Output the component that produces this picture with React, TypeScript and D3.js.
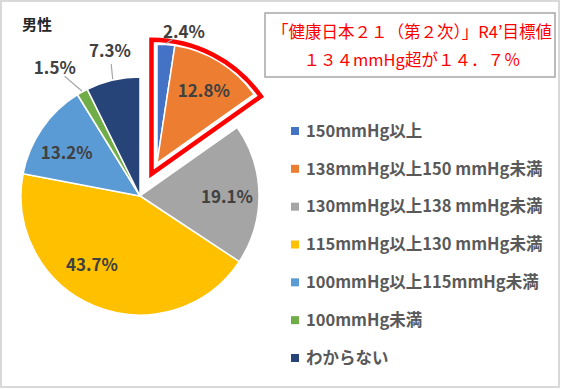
import React, { useEffect, useRef } from "react";
import * as d3 from "d3";

// data (男性, 収縮期血圧の分布)
const categories = [
  "150mmHg以上",
  "138mmHg以上150 mmHg未満",
  "130mmHg以上138 mmHg未満",
  "115mmHg以上130 mmHg未満",
  "100mmHg以上115mmHg未満",
  "100mmHg未満",
  "わからない",
];
const values = [2.4, 12.8, 19.1, 43.7, 13.2, 1.5, 7.3];
const colors = ["#4472c4", "#ed7d31", "#a5a5a5", "#ffc000", "#5b9bd5", "#70ad47", "#264478"];
const exploded = [true, true, false, false, false, false, false];
const titleText = "男性";
const noteLines = ["「健康日本２１（第２次）」R4’目標値", "１３４mmHg超が１４．７％"];

// label placement: [radius, angle nudge in degrees], outside labels get a leader
const labelPlace: [number, number, boolean][] = [
  [134, 7.3, true],
  [86, 1.3, false],
  [87, 1.6, false],
  [84, 12.8, false],
  [85, -4.1, false],
  [154, -4.6, true],
  [148, 1.4, true],
];

const W = 563;
const H = 389;
const FONT = "'Noto Sans CJK JP', 'Liberation Sans', sans-serif";

const App: React.FC = () => {
  const svgRef = useRef<SVGSVGElement>(null);

  useEffect(() => {
    if (!svgRef.current) return;
    const svg = d3.select(svgRef.current);
    svg.selectAll("*").remove();

    const cx = 140;
    const cy = 196;
    const r = 119;
    const explode = 37;

    svg.append("rect").attr("width", W).attr("height", H).attr("fill", "#fff");
    svg
      .append("rect")
      .attr("x", 1)
      .attr("y", 1)
      .attr("width", 558)
      .attr("height", 386)
      .attr("fill", "none")
      .attr("stroke", "#d9d9d9")
      .attr("stroke-width", 2);

    // title
    svg
      .append("text")
      .attr("x", 22)
      .attr("y", 25)
      .attr("dy", "0.35em")
      .attr("font-family", FONT)
      .attr("font-size", 15)
      .attr("font-weight", "bold")
      .attr("fill", "#262626")
      .text(titleText);

    const pie = d3
      .pie<number>()
      .sort(null)
      .value((d) => d);
    const arcs = pie(values);
    const arc = d3.arc<d3.PieArcDatum<number>>().innerRadius(0).outerRadius(r);

    // explosion direction = bisector of the exploded group
    const expArcs = arcs.filter((_, i) => exploded[i]);
    const g0 = d3.min(expArcs, (a) => a.startAngle)!;
    const g1 = d3.max(expArcs, (a) => a.endAngle)!;
    const bis = (g0 + g1) / 2;
    const ex = cx + explode * Math.sin(bis);
    const ey = cy - explode * Math.cos(bis);
    const centerOf = (i: number) => (exploded[i] ? [ex, ey] : [cx, cy]);

    const gPie = svg.append("g");
    gPie
      .selectAll("path.slice")
      .data(arcs)
      .enter()
      .append("path")
      .attr("class", "slice")
      .attr("transform", (_, i) => `translate(${centerOf(i)[0]},${centerOf(i)[1]})`)
      .attr("d", arc)
      .attr("fill", (_, i) => colors[i])
      .attr("stroke", "#fff")
      .attr("stroke-width", 1.5)
      .attr("stroke-linejoin", "round");

    // red highlight around the exploded slices
    const back = 12;
    const hx = ex - back * Math.sin(bis);
    const hy = ey + back * Math.cos(bis);
    const hl = d3.arc()({ innerRadius: 0, outerRadius: 134, startAngle: g0, endAngle: g1 } as any);
    svg
      .append("path")
      .attr("transform", `translate(${hx},${hy})`)
      .attr("d", hl)
      .attr("fill", "none")
      .attr("stroke", "#ff0000")
      .attr("stroke-width", 4.5)
      .attr("stroke-linejoin", "miter");

    // data labels
    const gLab = svg.append("g");
    arcs.forEach((a, i) => {
      const [ox, oy] = centerOf(i);
      const [lr, nudge, outside] = labelPlace[i];
      const mid = (a.startAngle + a.endAngle) / 2;
      const ang = mid + (nudge * Math.PI) / 180;
      const lx = ox + lr * Math.sin(ang);
      const ly = oy - lr * Math.cos(ang);
      if (outside) {
        const sx = ox + (r + 1) * Math.sin(mid);
        const sy = oy - (r + 1) * Math.cos(mid);
        const dx = lx - sx;
        const dy = ly - sy;
        const len = Math.hypot(dx, dy);
        const k = Math.max(0, len - 13) / len;
        gLab
          .append("line")
          .attr("x1", sx)
          .attr("y1", sy)
          .attr("x2", sx + dx * k)
          .attr("y2", sy + dy * k)
          .attr("stroke", "#a6a6a6")
          .attr("stroke-width", 1.2);
      }
      gLab
        .append("text")
        .attr("x", lx)
        .attr("y", ly)
        .attr("dy", "0.35em")
        .attr("text-anchor", "middle")
        .attr("font-family", FONT)
        .attr("font-size", 17)
        .attr("font-weight", "bold")
        .attr("fill", "#404040")
        .text(`${values[i].toFixed(1)}%`);
    });

    // note box
    svg
      .append("rect")
      .attr("x", 265)
      .attr("y", 13)
      .attr("width", 290)
      .attr("height", 64)
      .attr("fill", "#fff")
      .attr("stroke", "#a6a6a6")
      .attr("stroke-width", 1.5);
    noteLines.forEach((t, i) => {
      svg
        .append("text")
        .attr("x", 412)
        .attr("y", 32 + i * 28)
        .attr("dy", "0.35em")
        .attr("text-anchor", "middle")
        .attr("font-family", FONT)
        .attr("font-size", 16.5)
        .attr("fill", "#ff0000")
        .text(t);
    });

    // legend
    const ly = d3
      .scalePoint<string>()
      .domain(categories)
      .range([131, 358]);
    const gLeg = svg.append("g");
    categories.forEach((c, i) => {
      const y = ly(c)!;
      gLeg
        .append("rect")
        .attr("x", 291)
        .attr("y", y - 4)
        .attr("width", 8)
        .attr("height", 8)
        .attr("fill", colors[i]);
      gLeg
        .append("text")
        .attr("x", 306)
        .attr("y", y)
        .attr("dy", "0.35em")
        .attr("font-family", FONT)
        .attr("font-size", 16.5)
        .attr("font-weight", "bold")
        .attr("fill", "#595959")
        .text(c);
    });
  }, []);

  return (
    <svg
      ref={svgRef}
      width={W}
      height={H}
      style={{ position: "absolute", left: 0, top: 0 }}
    ></svg>
  );
};

export default App;
